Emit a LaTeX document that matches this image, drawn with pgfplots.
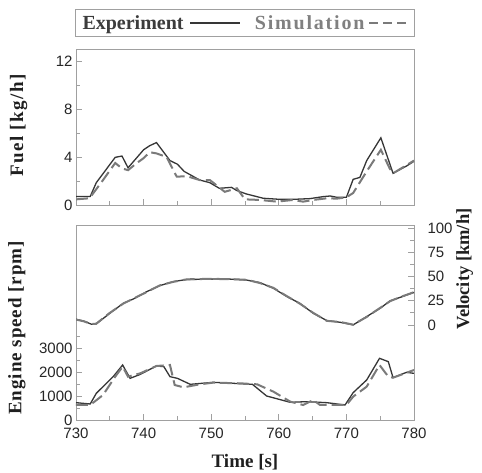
\documentclass[border=0pt]{standalone}
\usepackage{fontspec}
\setmainfont{Liberation Serif}
\setsansfont{Liberation Sans}
\usepackage{pgfplots}
\usepackage{pgfplotstable}
\pgfplotsset{compat=1.18}
\definecolor{expc}{HTML}{363636}
\definecolor{simc}{HTML}{7A7A7A}
\definecolor{framec}{HTML}{A0A0A0}
\definecolor{legexp}{HTML}{3C3C3C}
\definecolor{legsim}{HTML}{808080}

\pgfplotstableread{
t f
730 0.7
732.1 0.7
733 1.86
735.8 3.97
736.8 4.08
737.7 3.1
740 4.6
740.9 4.94
741.9 5.2
743.9 3.7
745 3.4
746 2.8
748.3 2.08
749.8 1.86
751.2 1.39
753 1.47
753.8 1.2
755.2 0.92
757.7 0.56
760.2 0.47
762.1 0.47
764.6 0.53
766.6 0.7
767.6 0.75
768.6 0.64
770 0.64
771 2.14
772 2.3
773 3.7
775.1 5.6
776.9 2.64
778.9 3.25
780 3.64
}\fuelexp

\pgfplotstableread{
t f
730 0.47
732 0.56
734 2.08
735.8 3.5
736.8 3.05
737.7 2.9
739 3.5
740 3.9
740.9 4.4
741.9 4.3
743.4 4.0
744.9 2.36
746.4 2.4
748.3 2.08
749.8 2.08
752 1.1
753.8 1.39
755 0.47
757.2 0.42
759.7 0.28
762.1 0.42
763.6 0.28
765.1 0.42
767.1 0.56
768.6 0.53
770 0.64
771 1.0
773 2.8
775.1 4.6
776.4 3.05
776.9 2.64
780 3.7
}\fuelsim

\pgfplotstableread{
t v
730 5.8
731.1 4.1
732.3 0.7
733 1.0
735 12
737 22.3
738.5 26.8
740.5 34.4
742.4 40.5
744.4 44.7
746.4 46.8
749.8 47.2
752.3 47.4
755.2 46.3
757.2 43.6
759.2 37.8
761.2 29.2
763.1 22.3
765.1 12
767.1 4.5
769.1 2.7
771 0
773 8.6
775 17.2
776.5 25
778 28.5
780 33.5
}\velexp

\pgfplotstableread{
t v
730 5.5
731.1 3.8
732.3 0.9
733 1.3
735 12.4
737 22.0
738.5 27.2
740.5 34.0
742.4 40.8
744.4 44.4
746.4 47.0
749.8 47.5
752.3 47.2
755.2 46.6
757.2 43.2
759.2 38.2
761.2 29.6
763.1 22.0
765.1 12.4
767.1 4.2
769.1 3.0
771 0.3
773 8.2
775 17.6
776.5 24.6
778 28.8
780 33.8
}\velsim

\pgfplotstableread{
t n
730 722
732.1 667
733 1111
735.5 1806
736.9 2292
738 1736
739.5 1900
741.9 2250
743 2222
743.9 1806
745 1736
746.9 1486
750.3 1570
753.3 1528
756.1 1486
758.2 1000
761.7 736
764.1 764
767.1 722
769.8 625
771 1139
773 1667
774.9 2570
776.2 2431
776.9 1764
778.9 1986
780 1944
}\rpmexp

\pgfplotstableread{
t n
730 625
732.1 625
734 1042
735.8 1806
736.9 2222
737.7 1806
739.5 1944
741.9 2250
743.9 2292
744.6 1458
745.9 1361
748.3 1486
750.3 1556
754.3 1528
756.8 1486
759.2 1181
761.7 764
763.6 625
765.1 833
766.1 625
768.1 625
770 625
771 972
773 1389
774.9 2292
776.2 1806
776.9 1764
780 2083
}\rpmsim

\begin{document}
\begin{tikzpicture}
\useasboundingbox (0pt,0pt) rectangle (482pt,473pt);
\pgfplotsset{
  base/.style={
    scale only axis, width=338pt,
    xmin=730, xmax=780,
    axis line style={framec, line width=0.8pt},
    every tick/.style={framec, line width=0.8pt},
    tick align=inside,
    xtick={730,740,...,780}, minor xtick={735,745,...,775},
    major tick length=6pt, minor tick length=4pt,
    ticklabel style={font=\sffamily\fontsize{15}{15}\selectfont, text=black!85},
    xticklabel style={yshift=-4pt},
    /pgf/number format/assume math mode=true,
    /pgf/number format/1000 sep={},
    label style={font=\bfseries\fontsize{19}{19}\selectfont, text=black!88},
  },
  exp/.style={expc, line width=1.3pt},
  sim/.style={simc, line width=2pt, dash pattern=on 12pt off 5pt},
}
\begin{axis}[base, at={(76pt,268pt)}, anchor=south west, height=156pt,
  ymin=0, ymax=13, ytick={0,4,8,12}, minor ytick={2,6,10},
  xticklabels={}, ytick pos=left, xtick pos=bottom,
  ylabel={\addfontfeature{LetterSpace=8}Fuel [kg/h]},
  ylabel style={at={(axis description cs:-0.17,0.51)}, anchor=center},
  legend plot pos=right,
  legend columns=2,
  legend style={at={(axis description cs:0.5,1)}, anchor=south, yshift=12pt,
    draw=framec, line width=0.8pt, inner xsep=7pt, inner ysep=6pt,
    column sep=0pt,
    nodes={inner sep=0pt},
    font=\bfseries\fontsize{20}{20}\selectfont},
]
\addplot[exp, legend image code/.code={\path (0pt,0pt); \draw[expc, line width=1.3pt] (6pt,0pt) -- (56pt,0pt); \path (70pt,0pt);}] table[x=t,y=f] {\fuelexp};
\addlegendentry{\textcolor{legexp}{Experiment}}
\addplot[sim, legend image code/.code={\path (0pt,0pt); \draw[simc, line width=2pt, dash pattern=on 9pt off 5pt] (4pt,0pt) -- (41pt,0pt);}] table[x=t,y=f] {\fuelsim};
\addlegendentry{\textcolor{legsim}{\addfontfeature{LetterSpace=9}Simulation}}
\end{axis}

\begin{axis}[base, at={(76pt,53pt)}, anchor=south west, height=195pt,
  ymin=0, ymax=8125, ytick={0,1000,2000,3000}, minor ytick={500,1500,2500,3500},
  ytick pos=left, xtick pos=bottom,
  xlabel={Time [s]},
  xlabel style={at={(axis description cs:0.5,-0.215)}, anchor=center},
  ylabel={\addfontfeature{LetterSpace=5}Engine speed [rpm]},
  ylabel style={at={(axis description cs:-0.175,0.472)}, anchor=center},
]
\addplot[exp] table[x=t,y=n] {\rpmexp};
\addplot[sim] table[x=t,y=n] {\rpmsim};
\end{axis}

\begin{axis}[base, at={(76pt,53pt)}, anchor=south west, height=195pt,
  ymin=-98, ymax=103, ytick={0,25,...,100}, minor ytick={12.5,37.5,62.5,87.5},
  axis y line*=right, axis x line=none,
  yticklabel style={anchor=west, xshift=10pt},
  ylabel={Velocity [km/h]},
  ylabel style={at={(axis description cs:1.15,0.774)}, anchor=center, font=\bfseries\fontsize{18.5}{18.5}\selectfont},
]
\addplot[exp] table[x=t,y=v] {\velexp};
\addplot[sim] table[x=t,y=v] {\velsim};
\end{axis}
\end{tikzpicture}
\end{document}
